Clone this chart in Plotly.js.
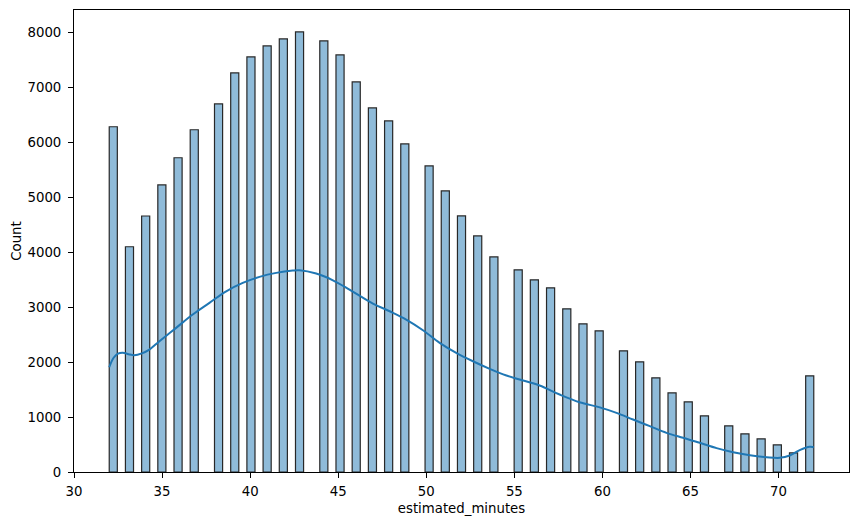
<!DOCTYPE html>
<html><head><meta charset="utf-8">
<script src="https://cdn.plot.ly/plotly-3.0.1.min.js"></script>
<style>html,body{margin:0;padding:0;background:#fff}</style>
</head><body><div id="chart" style="width:859px;height:525px"></div>
<script>
// Integer minute values and their counts
const minutes = [32,33,34,35,36,37,38,39,40,41,42,43,44,45,46,47,48,49,50,51,52,53,54,55,56,57,58,59,60,61,62,63,64,65,66,67,68,69,70,71,72];
const counts  = [6285,4100,4660,5225,5720,6230,6700,7265,7556,7756,7883,8011,7847,7592,7101,6628,6391,5973,5572,5117,4662,4298,3916,3680,3498,3352,2970,2697,2570,2206,2005,1714,1441,1278,1023,841,695,604,495,349,1751];

// KDE curve (scaled to counts)
const kdeX = [32.0,32.25,32.5,32.77,33.1,33.43,33.85,34.28,34.85,35.8,36.74,37.69,38.64,39.58,40.53,41.48,42.42,42.8,43.75,44.7,45.64,46.97,47.92,48.86,49.81,50.76,51.7,52.65,53.6,54.55,55.3,56.43,57.57,58.7,59.85,60.8,61.74,62.69,63.64,64.58,65.53,66.48,67.42,68.37,69.32,70.07,70.64,71.2,71.77,72.0];
const kdeY = [1907,2080,2156,2172,2145,2126,2160,2229,2380,2624,2866,3079,3290,3443,3552,3625,3667,3672,3612,3490,3321,3066,2926,2775,2581,2351,2169,2016,1878,1756,1683,1574,1410,1270,1177,1077,955,834,713,622,531,434,360,306,270,258,300,397,459,452];

const xTicks = [30,35,40,45,50,55,60,65,70];
const yTicks = [0,1000,2000,3000,4000,5000,6000,7000,8000];

// histogram binning (numpy-style: last bin closed on the right)
const binStart = 32, binEnd = 72, nBins = 87;
const binW = (binEnd - binStart) / nBins;
const barX = minutes.map(m => {
  let k = Math.floor((m - binStart) / binW + 1e-9);
  if (k >= nBins) k = nBins - 1;
  return binStart + (k + 0.5) * binW;
});

const font = {family: 'DejaVu Sans, sans-serif', size: 13.3, color: '#000'};

const traces = [
  {
    type: 'bar', x: barX, y: counts, width: binW,
    marker: {color: 'rgba(31,119,180,0.5)', line: {color: 'rgba(40,40,40,1)', width: 1.2}},
    hoverinfo: 'x+y', showlegend: false
  },
  {
    type: 'scatter', mode: 'lines', x: kdeX, y: kdeY,
    line: {color: '#1f77b4', width: 2, shape: 'spline', smoothing: 1},
    showlegend: false
  }
];

const layout = {
  width: 859, height: 525,
  margin: {l: 74, r: 10, t: 10, b: 53},
  paper_bgcolor: '#fff', plot_bgcolor: '#fff',
  font: font,
  bargap: 0,
  xaxis: {
    range: [30, 74], tickvals: xTicks, ticktext: xTicks.map(String),
    showgrid: false, zeroline: false,
    showline: true, mirror: true, linecolor: '#000', linewidth: 1,
    ticks: 'outside', ticklen: 5, tickwidth: 1, tickcolor: '#000',
    ticklabelstandoff: 2,
    tickfont: font,
    title: {text: 'estimated_minutes', font: font, standoff: 5}
  },
  yaxis: {
    range: [0, 8410], tickvals: yTicks, ticktext: yTicks.map(String),
    showgrid: false, zeroline: false,
    showline: true, mirror: true, linecolor: '#000', linewidth: 1,
    ticks: 'outside', ticklen: 5, tickwidth: 1, tickcolor: '#000',
    ticklabelstandoff: 4,
    tickfont: font,
    title: {text: 'Count', font: font, standoff: 2}
  }
};

Plotly.newPlot('chart', traces, layout, {displayModeBar: false, staticPlot: true});
</script>
</body></html>
